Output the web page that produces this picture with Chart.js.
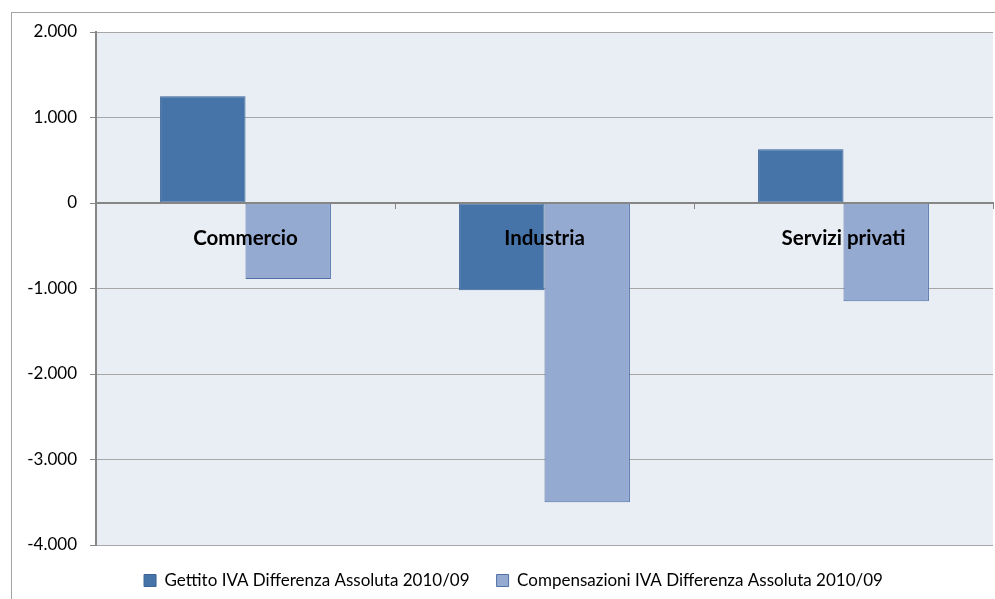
<!DOCTYPE html>
<html lang="it">
<head>
<meta charset="utf-8">
<title>Gettito e compensazioni IVA</title>
<script src="https://cdn.jsdelivr.net/npm/chart.js@4.4.1/dist/chart.umd.min.js"></script>
<style>
  html, body { margin: 0; padding: 0; background: #fff; }
  #wrap { position: relative; width: 995px; height: 599px; overflow: hidden; }
  #frame {
    position: absolute; left: 11px; top: 12px; width: 1100px; height: 700px;
    border-left: 1px solid #a3a3a3; border-top: 1px solid #a3a3a3;
    pointer-events: none;
  }
  canvas { position: absolute; left: 0; top: 0; }
</style>
</head>
<body>
<div id="wrap">
  <div id="frame"></div>
  <canvas id="ivaChart" width="995" height="599"></canvas>
</div>
<script>
// ── dati (milioni di euro) ──
const settori       = ['Commercio', 'Industria', 'Servizi privati'];
const gettito       = [1250, -1020, 630];
const compensazioni = [-890, -3500, -1150];
const serieNomi     = ['Gettito IVA Differenza Assoluta 2010/09',
                       'Compensazioni IVA Differenza Assoluta 2010/09'];
const yMin = -4000, yMax = 2000, yStep = 1000;

const FONT = 'Lato, "Liberation Sans", sans-serif';

// formato italiano: punto come separatore delle migliaia
function fmtIt(v) {
  const s = Math.abs(v).toString().replace(/\B(?=(\d{3})+(?!\d))/g, '.');
  return (v < 0 ? '-' : '') + s;
}

// sfondo dell'area del grafico
const plotBg = {
  id: 'plotBg',
  beforeDraw(chart) {
    const { ctx, chartArea: a } = chart;
    ctx.save();
    ctx.fillStyle = '#e9edf4';
    ctx.fillRect(a.left, a.top, a.right - a.left, a.bottom - a.top);
    ctx.restore();
  }
};

// legenda spostata un po' a sinistra rispetto al centro dell'area
const legendaCentrata = {
  id: 'legendaCentrata',
  afterLayout(chart) {
    const lg = chart.legend;
    lg.left = chart.chartArea.left - 62;
    lg.right = chart.chartArea.right;
    lg.width = lg.right - lg.left;
  }
};

new Chart(document.getElementById('ivaChart'), {
  type: 'bar',
  data: {
    labels: settori,
    datasets: [
      {
        label: serieNomi[0],
        data: gettito,
        backgroundColor: '#4674a8',
        borderColor: '#3a6396',
        borderWidth: 1,
        borderSkipped: false
      },
      {
        label: serieNomi[1],
        data: compensazioni,
        backgroundColor: '#95aad1',
        borderColor: '#4f71a6',
        borderWidth: 1,
        borderSkipped: false
      }
    ]
  },
  options: {
    responsive: false,
    animation: false,
    datasets: { bar: { categoryPercentage: 2 / 3.5, barPercentage: 1 } },
    layout: { padding: { left: 0, right: 2, top: 32, bottom: 0 } },
    plugins: {
      tooltip: { enabled: false },
      legend: {
        position: 'bottom',
        align: 'center',
        labels: {
          color: '#000',
          font: { family: FONT, size: 17 },
          boxWidth: 12,
          boxHeight: 12,
          padding: 27
        }
      }
    },
    scales: {
      x: {
        position: { y: 0 },
        border: { color: '#868686', width: 2, z: 1 },
        grid: {
          display: true,
          drawOnChartArea: false,
          drawTicks: true,
          tickLength: 5,
          offset: true,
          color: '#868686'
        },
        ticks: {
          z: 1,
          color: '#000',
          font: { family: FONT, size: 20.5, weight: 'bold' },
          padding: 18,
          maxRotation: 0
        }
      },
      y: {
        min: yMin,
        max: yMax,
        afterFit(scale) { scale.width = 96; },
        border: { color: '#868686', width: 2 },
        grid: { color: '#a6a6a6', lineWidth: 1, tickLength: 6, tickColor: '#868686' },
        ticks: {
          stepSize: yStep,
          color: '#000',
          font: { family: FONT, size: 17 },
          padding: 13,
          callback: v => fmtIt(v)
        }
      }
    }
  },
  plugins: [plotBg, legendaCentrata]
});
</script>
</body>
</html>
